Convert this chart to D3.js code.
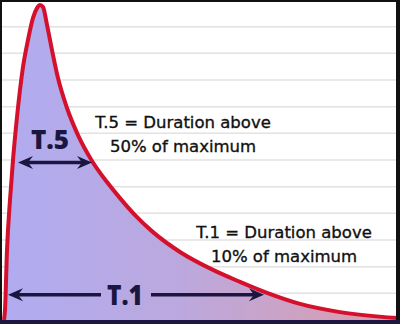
<!DOCTYPE html>
<html>
<head>
<meta charset="utf-8">
<style>
  body { margin: 0; background: #fff; }
  svg { display: block; }
  .note { font-family: "DejaVu Sans", sans-serif; font-size: 16.5px; fill: #111; stroke: #111; stroke-width: 0.35px; }
  .tag { font-family: "Open Sans", Lato, sans-serif; font-weight: 800; fill: #1a1640; }
</style>
</head>
<body>
<svg id="chart"></svg>
<script src="https://cdn.jsdelivr.net/npm/d3@7"></script>
<script>
// pulse shape: time (0-100) and level (fraction of max)
let times  = [1, 1.25, 1.75, 2.5, 3.25, 4.25, 5.75, 7, 8.25, 9.25, 10, 10.75, 11.75, 13, 14.5, 16.75, 19.5, 23, 26.75, 30, 33.75, 38.25, 45, 53.25, 60, 66.75, 75, 85, 99.25];
let levels = [0, 0.032, 0.222, 0.381, 0.508, 0.644, 0.803, 0.889, 0.959, 0.99, 1.0, 0.994, 0.937, 0.857, 0.768, 0.673, 0.587, 0.505, 0.438, 0.387, 0.333, 0.279, 0.216, 0.159, 0.121, 0.086, 0.051, 0.025, 0.006];

// duration arrows
let spanLabels = ["T.5", "T.1"];
let spanLevels = [0.5, 0.08];
let spanStart  = [4.5, 2];
let spanEnd    = [23, 66];

let noteLines = [
  ["T.5 = Duration above", "50% of maximum"],
  ["T.1 = Duration above", "10% of maximum"]
];

let gridTicks = [1, 2, 3, 4, 5, 6, 7, 8, 9, 10, 11];

let width = 400,
    height = 324;

let svg = d3.select("#chart")
    .attr("width", width)
    .attr("height", height);

let x = d3.scaleLinear().domain([0, 100]).range([0, 400]);
let y = d3.scaleLinear().domain([0, 1]).range([320, 5]);
let gy = d3.scaleLinear().domain([0, 12]).range([320, 0]);

let data = times.map((t, i) => ({ t: t, v: levels[i] }));

// gradient fill
let grad = svg.append("defs").append("linearGradient")
    .attr("id", "fill")
    .attr("x1", "0%").attr("x2", "100%")
    .attr("y1", "0%").attr("y2", "0%");
grad.append("stop").attr("offset", "0%").attr("stop-color", "#b0acf0");
grad.append("stop").attr("offset", "45%").attr("stop-color", "#bca8de");
grad.append("stop").attr("offset", "75%").attr("stop-color", "#cda2c2");
grad.append("stop").attr("offset", "100%").attr("stop-color", "#dc98a6");

// grid
svg.append("g")
  .selectAll("line")
  .data(gridTicks)
  .enter()
  .append("line")
    .attr("x1", 0).attr("x2", width)
    .attr("y1", d => gy(d)).attr("y2", d => gy(d))
    .attr("stroke", "#e2e2e2")
    .attr("stroke-width", 1.5);

let area = d3.area()
    .x(d => x(d.t))
    .y0(y(0))
    .y1(d => y(d.v))
    .curve(d3.curveMonotoneX);

let line = d3.line()
    .x(d => x(d.t))
    .y(d => y(d.v))
    .curve(d3.curveMonotoneX);

svg.append("path")
    .datum(data)
    .attr("d", area)
    .attr("fill", "url(#fill)");

svg.append("path")
    .datum(data)
    .attr("d", line)
    .attr("fill", "none")
    .attr("stroke", "#d4102c")
    .attr("stroke-width", 4)
    .attr("stroke-linejoin", "round");

// arrowhead: tip at (tx,ty), pointing dir (+1 right, -1 left)
function head(tx, ty, dir) {
  let l = 15, w = 6.5, back = 10;
  return "M" + tx + "," + ty +
    " L" + (tx - dir * l) + "," + (ty - w) +
    " L" + (tx - dir * back) + "," + ty +
    " L" + (tx - dir * l) + "," + (ty + w) + " Z";
}

let ink = "#1a1640";

// T.5 double arrow
let y5 = y(spanLevels[0]);
let a5 = x(spanStart[0]), b5 = x(spanEnd[0]);
svg.append("line")
    .attr("x1", a5 + 8).attr("x2", b5 - 8)
    .attr("y1", y5).attr("y2", y5)
    .attr("stroke", ink).attr("stroke-width", 3.5);
svg.append("path").attr("d", head(a5, y5, -1)).attr("fill", ink);
svg.append("path").attr("d", head(b5, y5, 1)).attr("fill", ink);
svg.append("text")
    .attr("class", "tag")
    .attr("x", 50)
    .attr("y", y5 - 14)
    .attr("text-anchor", "middle")
    .attr("font-size", 26)
    .text(spanLabels[0]);

// T.1 arrow split by its label
let y1 = y(spanLevels[1]);
let a1 = x(spanStart[1]), b1 = x(spanEnd[1]);
svg.append("line")
    .attr("x1", a1 + 8).attr("x2", 101)
    .attr("y1", y1).attr("y2", y1)
    .attr("stroke", ink).attr("stroke-width", 3.5);
svg.append("line")
    .attr("x1", 151).attr("x2", b1 - 8)
    .attr("y1", y1).attr("y2", y1)
    .attr("stroke", ink).attr("stroke-width", 3.5);
svg.append("path").attr("d", head(a1, y1, -1)).attr("fill", ink);
svg.append("path").attr("d", head(b1, y1, 1)).attr("fill", ink);
svg.append("text")
    .attr("class", "tag")
    .attr("x", 125)
    .attr("y", y1 + 10)
    .attr("text-anchor", "middle")
    .attr("font-size", 29)
    .attr("textLength", 36)
    .attr("lengthAdjust", "spacingAndGlyphs")
    .text(spanLabels[1]);

// notes
let notePos = [[183, 128], [284, 238]];
noteLines.forEach((lines, i) => {
  lines.forEach((s, j) => {
    svg.append("text")
      .attr("class", "note")
      .attr("x", notePos[i][0])
      .attr("y", notePos[i][1] + j * 24)
      .attr("text-anchor", "middle")
      .text(s);
  });
});

// frame
svg.append("rect")
    .attr("x", 1).attr("y", 1)
    .attr("width", width - 3).attr("height", height - 2)
    .attr("fill", "none")
    .attr("stroke", "#111")
    .attr("stroke-width", 2);
svg.append("line")
    .attr("x1", width - 2).attr("x2", width - 2)
    .attr("y1", 0).attr("y2", height)
    .attr("stroke", "#111").attr("stroke-width", 4);
svg.append("line")
    .attr("x1", 0).attr("x2", width)
    .attr("y1", 322).attr("y2", 322)
    .attr("stroke", "#1c1640").attr("stroke-width", 4);
</script>
</body>
</html>
